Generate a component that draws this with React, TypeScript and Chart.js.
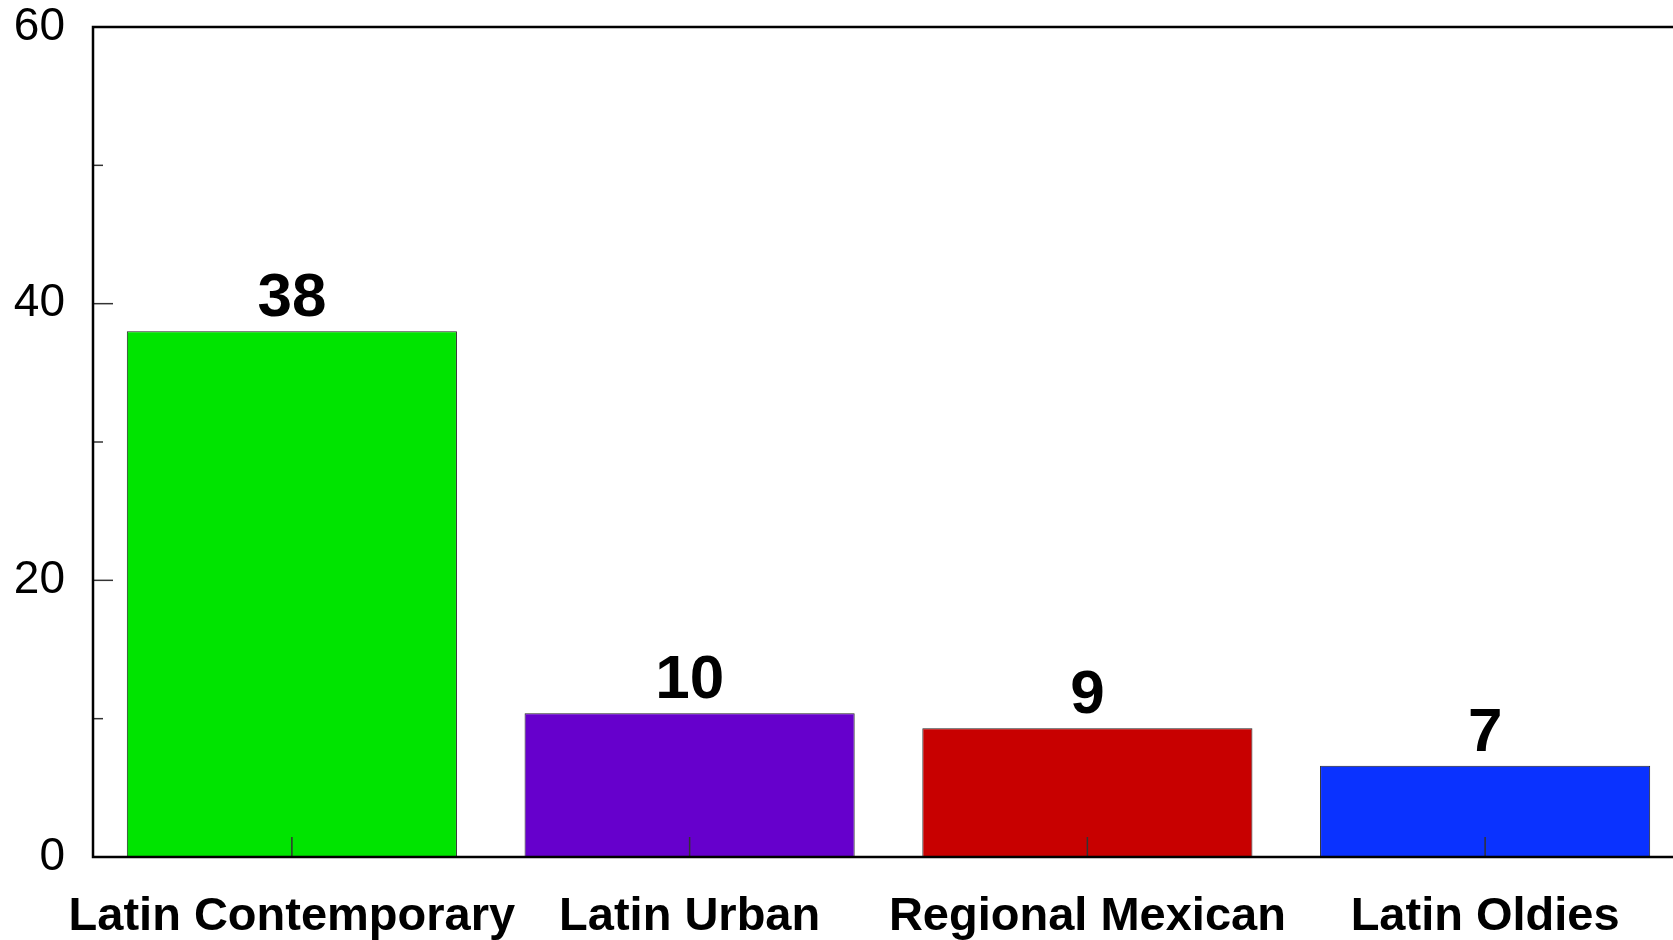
import React, { useEffect, useRef } from "react";
import { Chart, registerables } from "chart.js";

Chart.register(...registerables);

const categories = ["Latin Contemporary", "Latin Urban", "Regional Mexican", "Latin Oldies"];
const values = [38, 10.4, 9.3, 6.6];
const barColors = ["#00e400", "#6600cc", "#c80000", "#0a32ff"];
const yMajorTicks = [0, 20, 40, 60];
const yMinorTicks = [10, 30, 50];

const FONT = "'Liberation Sans', Arial, Helvetica, sans-serif";

const framePlugin = {
  id: "framePlugin",
  afterDatasetsDraw(chart: any) {
    const { ctx, chartArea: a, scales } = chart;
    const xs = scales.x;
    const ys = scales.y;
    ctx.save();
    ctx.strokeStyle = "#333";
    ctx.lineWidth = 1.5;
    const seg = (x1: number, y1: number, x2: number, y2: number) => {
      ctx.beginPath();
      ctx.moveTo(x1, y1);
      ctx.lineTo(x2, y2);
      ctx.stroke();
    };
    yMajorTicks.forEach((v) => {
      const py = ys.getPixelForValue(v);
      seg(a.left, py, a.left + 20, py);
    });
    yMinorTicks.forEach((v) => {
      const py = ys.getPixelForValue(v);
      seg(a.left, py, a.left + 10, py);
    });
    categories.forEach((_, i) => {
      const px = xs.getPixelForValue(i);
      seg(px, a.bottom, px, a.bottom - 20);
    });
    ctx.strokeStyle = "#000";
    ctx.lineWidth = 2.5;
    ctx.beginPath();
    ctx.moveTo(a.right, a.top);
    ctx.lineTo(a.left, a.top);
    ctx.lineTo(a.left, a.bottom);
    ctx.lineTo(a.right, a.bottom);
    ctx.lineTo(a.right, a.top);
    ctx.stroke();
    ctx.fillStyle = "#000";
    ctx.font = `bold 62px ${FONT}`;
    ctx.textAlign = "center";
    ctx.textBaseline = "alphabetic";
    const meta = chart.getDatasetMeta(0);
    meta.data.forEach((bar: any, i: number) => {
      ctx.fillText(String(Math.round(values[i])), bar.x, bar.y - 15);
    });
    ctx.restore();
  },
};

export default function App() {
  const ref = useRef<HTMLCanvasElement | null>(null);

  useEffect(() => {
    if (!ref.current) return;
    Chart.defaults.font.family = FONT;
    const chart = new Chart(ref.current, {
      type: "bar",
      data: {
        labels: categories,
        datasets: [
          {
            data: values,
            backgroundColor: barColors,
            borderColor: "#222",
            borderWidth: 1,
            barPercentage: 0.83,
            categoryPercentage: 1,
          },
        ],
      },
      options: {
        animation: false,
        responsive: false,
        maintainAspectRatio: false,
        layout: { padding: { left: 13, top: 27, right: 16, bottom: 0 } },
        plugins: {
          legend: { display: false },
          tooltip: { enabled: false },
          title: { display: false },
        },
        scales: {
          x: {
            grid: { display: false, drawTicks: false },
            border: { display: false },
            ticks: {
              color: "#000",
              font: { size: 47, weight: "bold", family: FONT },
              padding: 32,
              maxRotation: 0,
              autoSkip: false,
            },
            afterFit: (s: any) => {
              s.height = 83;
            },
          },
          y: {
            min: 0,
            max: 60,
            grid: { display: false, drawTicks: false },
            border: { display: false },
            ticks: {
              stepSize: 20,
              color: "#000",
              font: { size: 46, family: FONT, lineHeight: 0.01 },
              padding: 28,
            },
            afterFit: (s: any) => {
              s.width = 80;
              s.paddingTop = 0;
              s.paddingBottom = 0;
            },
          },
        },
      },
      plugins: [framePlugin],
    });
    return () => chart.destroy();
  }, []);

  return (
    <div
      style={{
        position: "fixed",
        left: 0,
        top: 0,
        width: "1673px",
        height: "940px",
        overflow: "hidden",
        background: "#fff",
      }}
    >
      <canvas ref={ref} width={1700} height={940} style={{ display: "block", width: "1700px", height: "940px" }} />
    </div>
  );
}
